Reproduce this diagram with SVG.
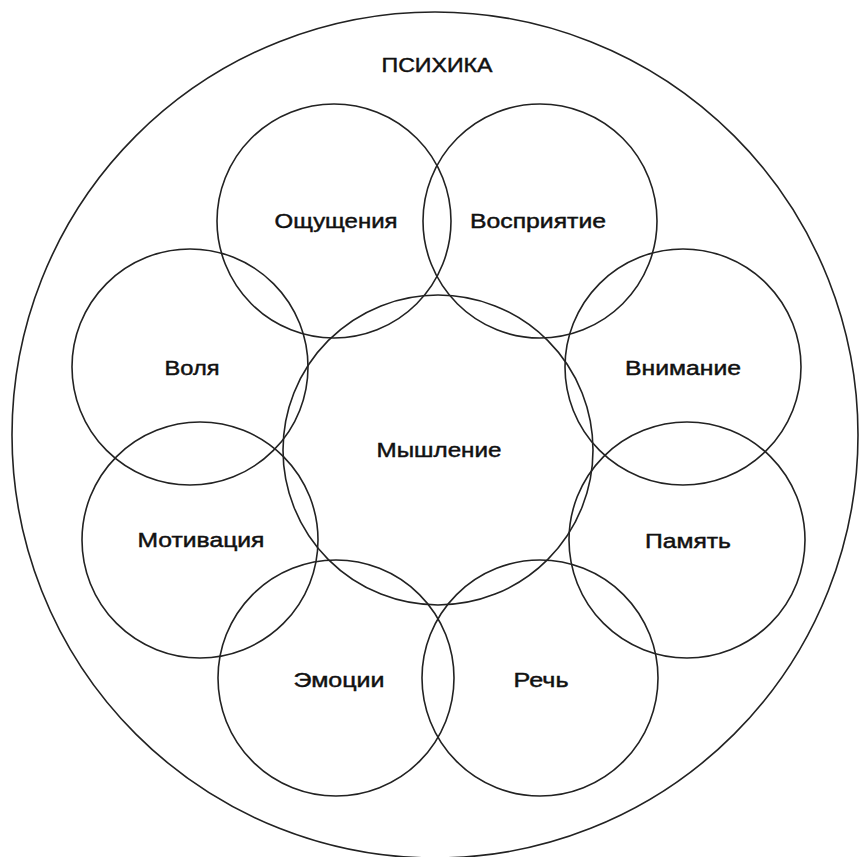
<svg xmlns="http://www.w3.org/2000/svg" width="860" height="857" viewBox="0 0 860 857">
<style>
circle{fill:none;stroke:#222;stroke-width:1.6}
text{font-family:"Liberation Sans",Arial,sans-serif;font-size:20px;fill:#111;stroke:#111;stroke-width:0.45;text-anchor:middle}
</style>
<rect width="860" height="857" fill="#fff"/>
<g id="psyche"><circle cx="435" cy="435" r="423"/><text x="437" y="72" textLength="111" lengthAdjust="spacingAndGlyphs">ПСИХИКА</text></g>
<g id="oshchushcheniya"><circle cx="334" cy="221" r="117"/><text x="336" y="228" textLength="123" lengthAdjust="spacingAndGlyphs">Ощущения</text></g>
<g id="vospriyatie"><circle cx="540" cy="221" r="117"/><text x="538" y="228" textLength="136" lengthAdjust="spacingAndGlyphs">Восприятие</text></g>
<g id="volya"><circle cx="190" cy="367" r="118"/><text x="192" y="375" textLength="55" lengthAdjust="spacingAndGlyphs">Воля</text></g>
<g id="vnimanie"><circle cx="683" cy="367" r="118"/><text x="683" y="375" textLength="116" lengthAdjust="spacingAndGlyphs">Внимание</text></g>
<g id="motivatsiya"><circle cx="200" cy="540" r="118"/><text x="201" y="547" textLength="127" lengthAdjust="spacingAndGlyphs">Мотивация</text></g>
<g id="pamyat"><circle cx="687" cy="540" r="118"/><text x="688" y="548" textLength="86" lengthAdjust="spacingAndGlyphs">Память</text></g>
<g id="emotsii"><circle cx="336" cy="678" r="118"/><text x="339" y="687" textLength="91" lengthAdjust="spacingAndGlyphs">Эмоции</text></g>
<g id="rech"><circle cx="540" cy="678" r="118"/><text x="541" y="687" textLength="55" lengthAdjust="spacingAndGlyphs">Речь</text></g>
<g id="myshlenie"><circle cx="438" cy="450" r="155"/><text x="439" y="457" textLength="125" lengthAdjust="spacingAndGlyphs">Мышление</text></g>
<g id="connectors"></g>
</svg>
